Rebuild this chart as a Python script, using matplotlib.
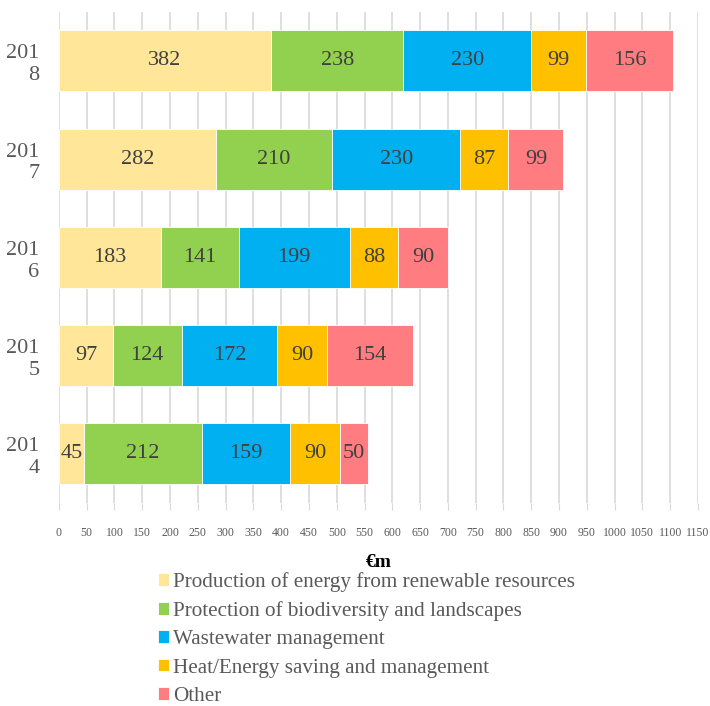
"""
plot.py
"""

import numpy as np
import matplotlib.pyplot as plt

plt.rcParams['font.family'] = ['Liberation Serif', 'DejaVu Serif']

years = ['201\n4', '201\n5', '201\n6', '201\n7', '201\n8']
categories = ['Production of energy from renewable resources',
              'Protection of biodiversity and landscapes',
              'Wastewater management',
              'Heat/Energy saving and management',
              'Other']
renewable = [45, 97, 183, 282, 382]
biodiversity = [212, 124, 141, 210, 238]
wastewater = [159, 172, 199, 230, 230]
heat = [90, 90, 88, 87, 99]
other = [50, 154, 90, 99, 156]
x_ticks = list(range(0, 1151, 50))

colors = ['#FFE699', '#92D050', '#00B0F0', '#FFC000', '#FF7C80']

fig = plt.figure(figsize=(7.1, 7.06), dpi=100)
ax = fig.add_axes([0.083, 0.2875, 0.9, 0.696])

series = [renewable, biodiversity, wastewater, heat, other]
y = np.arange(len(years))
left = np.zeros(len(years))
for i, vals in enumerate(series):
    vals = np.array(vals)
    bars = ax.barh(y, vals, left=left, height=0.62, color=colors[i],
                   edgecolor='white', linewidth=0.6, label=categories[i],
                   zorder=3)
    ax.bar_label(bars, labels=[str(v) for v in vals], label_type='center',
                 fontsize=16, color='#404040')
    left += vals

ax.set_xlim(0, 1150)
ax.set_ylim(-0.5, len(years) - 0.5)
ax.set_xticks(x_ticks)
ax.set_xticklabels([str(t) for t in x_ticks], fontsize=8.5, color='#595959')
ax.set_yticks(y)
ax.set_yticklabels(years, fontsize=16, color='#595959')
ax.grid(axis='x', color='#D9D9D9', linewidth=1.2, zorder=0)
ax.tick_params(axis='x', length=5, color='#D9D9D9', pad=12)
ax.tick_params(axis='y', length=0, pad=14)
for s in ax.spines.values():
    s.set_visible(False)
ax.set_xlabel('€m', fontsize=14, fontweight='bold', labelpad=11)

fig.legend(loc='upper left', bbox_to_anchor=(0.207, 0.205), frameon=False,
           fontsize=15.2, handlelength=0.55, handleheight=0.55,
           handletextpad=0.2, labelspacing=0.44, labelcolor='#595959',
           borderpad=0)

fig.savefig('out.png', dpi=100)
